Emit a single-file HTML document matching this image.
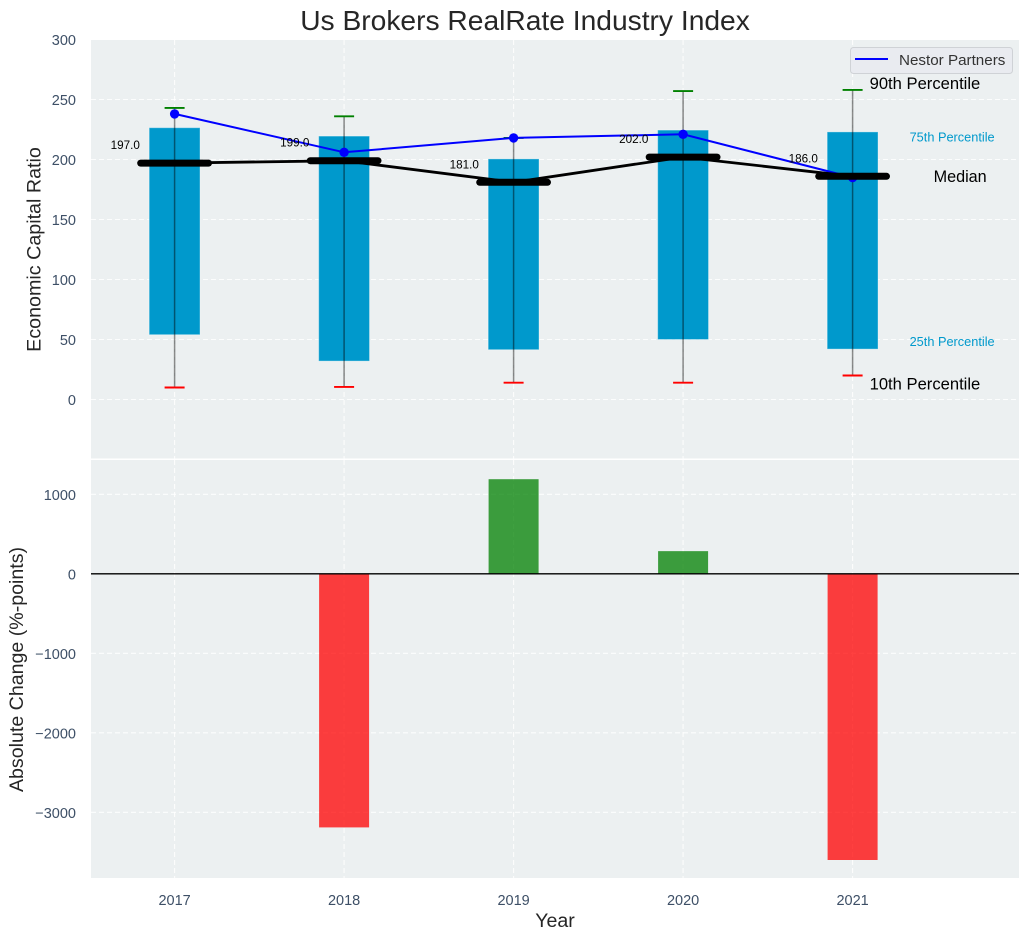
<!DOCTYPE html>
<html>
<head>
<meta charset="utf-8">
<title>Us Brokers RealRate Industry Index</title>
<style>
html,body{margin:0;padding:0;background:#fff;}
svg{display:block;font-family:"Liberation Sans",Arial,sans-serif;}
</style>
</head>
<body>
<svg id="chart" width="1029" height="940" viewBox="0 0 1029 940" xmlns="http://www.w3.org/2000/svg"></svg>
<script>
const years = [2017, 2018, 2019, 2020, 2021];
const p90 = [243, 236, 218, 257, 258];
const p75 = [226.5, 219.5, 200.5, 224.5, 223];
const medians = [197, 199, 181, 202, 186];
const p25 = [54, 32, 41.5, 50, 42];
const p10 = [10, 10.5, 14, 14, 20];
const nestor = [238, 206, 218, 221, 185];
const absChange = [null, -3190, 1190, 285, -3600];
const topTicks = [0, 50, 100, 150, 200, 250, 300];
const bottomTicks = [1000, 0, -1000, -2000, -3000];

const svg = document.getElementById('chart');
const NS = 'http://www.w3.org/2000/svg';
const L = 91, R = 1019, T1 = 40, B1 = 458.5, T2 = 460, B2 = 878;

function x(v) { return 174.6 + (v - 2017) * 169.5; }
function yTop(v) { return 399.5 - v * 1.2; }
function yBot(v) { return 573.8 - v * 0.0795; }
function bandW(u) { return u * 169.5; }

function make(tag, attrs, parent) {
  const node = document.createElementNS(NS, tag);
  for (const k in attrs) node.setAttribute(k, attrs[k]);
  (parent || svg).appendChild(node);
  return node;
}
function label(str, attrs, parent) {
  const node = make('text', attrs, parent);
  node.textContent = str;
  return node;
}
const GRID = {stroke: '#ffffff', 'stroke-width': 1.1, 'stroke-dasharray': '5 3', 'stroke-opacity': 0.85};
const TICK = {fill: '#3d4f66', 'font-size': 14.5};
let el;

el = label('Us Brokers RealRate Industry Index', {x: 525, y: 30, 'text-anchor': 'middle', 'font-size': 28.2, fill: '#262626'});



el = make('rect', {x: L, y: T1, width: R - L, height: B1 - T1, fill: '#ecf0f1'});


el = make('rect', {x: L, y: T2, width: R - L, height: B2 - T2, fill: '#ecf0f1'});



/* gridlines */
topTicks.forEach(function (t) {
  el = make('line', Object.assign({x1: L, x2: R, y1: yTop(t), y2: yTop(t)}, GRID));
  
  
  el = label(String(t), Object.assign({x: 76, y: yTop(t) + 5.7, 'text-anchor': 'end'}, TICK));
  
  
});
bottomTicks.forEach(function (t) {
  el = make('line', Object.assign({x1: L, x2: R, y1: yBot(t), y2: yBot(t)}, GRID));
  
  
  el = label(String(t).replace('-', '\u2212'), Object.assign({x: 76, y: yBot(t) + 5.7, 'text-anchor': 'end'}, TICK));
  
  
});
years.forEach(function (yr) {
  el = make('line', Object.assign({x1: x(yr), x2: x(yr), y1: T1, y2: B1}, GRID));
  
  
  el = make('line', Object.assign({x1: x(yr), x2: x(yr), y1: T2, y2: B2}, GRID));
  
  
  el = label(String(yr), Object.assign({x: x(yr), y: 905, 'text-anchor': 'middle'}, TICK));
  
  
});

/* percentile boxes, whiskers and caps */
years.forEach(function (yr, i) {
  const w = bandW(0.3);
  el = make('rect', {x: x(yr) - w / 2, y: yTop(p75[i]), width: w, height: yTop(p25[i]) - yTop(p75[i]), fill: '#0099cc', stroke: '#ffffff', 'stroke-opacity': 0.35, 'stroke-width': 1});
  
  
  el = make('line', {x1: x(yr), x2: x(yr), y1: yTop(p10[i]), y2: yTop(p90[i]), stroke: '#000000', 'stroke-opacity': 0.45, 'stroke-width': 1.5});
  
  
  el = make('line', {x1: x(yr) - 10, x2: x(yr) + 10, y1: yTop(p90[i]), y2: yTop(p90[i]), stroke: '#008000', 'stroke-width': 1.9});
  
  
  el = make('line', {x1: x(yr) - 10, x2: x(yr) + 10, y1: yTop(p10[i]), y2: yTop(p10[i]), stroke: '#ff0000', 'stroke-width': 1.9});
  
  
});

/* Nestor Partners series */
el = make('polyline', {points: years.map(function (yr, i) { return x(yr) + ',' + yTop(nestor[i]); }).join(' '), fill: 'none', stroke: '#0000ff', 'stroke-width': 2});


years.forEach(function (yr, i) {
  el = make('circle', {cx: x(yr), cy: yTop(nestor[i]), r: 4.7, fill: '#0000ff'});
  
  
});

/* median line and median bars */
el = make('polyline', {points: years.map(function (yr, i) { return x(yr) + ',' + yTop(medians[i]); }).join(' '), fill: 'none', stroke: '#000000', 'stroke-width': 2.8});


years.forEach(function (yr, i) {
  el = make('line', {x1: x(yr) - bandW(0.2), x2: x(yr) + bandW(0.2), y1: yTop(medians[i]), y2: yTop(medians[i]), stroke: '#000000', 'stroke-width': 7, 'stroke-linecap': 'round'});
  
  
  el = label(medians[i].toFixed(1), {x: x(yr) - 64, y: yTop(medians[i] + 15) + 4, 'font-size': 11.7, fill: '#000000'});
  
  
});

/* percentile annotations, positioned against the final year */
const last = years.length - 1;
const lastX = x(years[last]);
el = label('90th Percentile', {x: lastX + 17, y: yTop(p90[last]) - 1, 'font-size': 16.6, fill: '#000000'});


el = label('10th Percentile', {x: lastX + 17, y: yTop(p10[last]) + 14, 'font-size': 16.6, fill: '#000000'});


el = label('75th Percentile', {x: lastX + 57, y: yTop(p75[last]) + 9.5, 'font-size': 12.75, fill: '#0099cc'});


el = label('25th Percentile', {x: lastX + 57, y: yTop(p25[last]) - 3, 'font-size': 12.75, fill: '#0099cc'});


el = label('Median', {x: lastX + 81, y: yTop(medians[last]) + 5.5, 'font-size': 16.2, fill: '#000000'});



/* legend */
el = make('g', {});


const legend = el;
el = make('rect', {x: 850.5, y: 47.5, width: 162, height: 26, rx: 3, fill: '#e9ebf0', stroke: '#cfd2d6', 'stroke-width': 1}, legend);


el = make('line', {x1: 855, x2: 888, y1: 59, y2: 59, stroke: '#0000ff', 'stroke-width': 2}, legend);


el = label('Nestor Partners', {x: 899, y: 65, 'font-size': 15.2, fill: '#333333'}, legend);



/* absolute change bars */
years.forEach(function (yr, i) {
  if (absChange[i] === null) return;
  const w = 50;
  const v = absChange[i];
  el = make('rect', {x: x(yr) - w / 2, y: Math.min(yBot(v), yBot(0)), width: w, height: Math.abs(yBot(v) - yBot(0)), fill: v >= 0 ? '#008000' : '#ff0000', 'fill-opacity': 0.75});
  
  
});
el = make('line', {x1: L, x2: R, y1: yBot(0), y2: yBot(0), stroke: '#000000', 'stroke-width': 1.4});



/* axis titles */
el = label('Economic Capital Ratio', {transform: 'translate(40.5 249.5) rotate(-90)', 'text-anchor': 'middle', 'font-size': 19.7, fill: '#262626'});


el = label('Absolute Change (%-points)', {transform: 'translate(23 669.5) rotate(-90)', 'text-anchor': 'middle', 'font-size': 19.6, fill: '#262626'});


el = label('Year', {x: 555, y: 927, 'text-anchor': 'middle', 'font-size': 19.6, fill: '#262626'});


</script>
</body>
</html>
